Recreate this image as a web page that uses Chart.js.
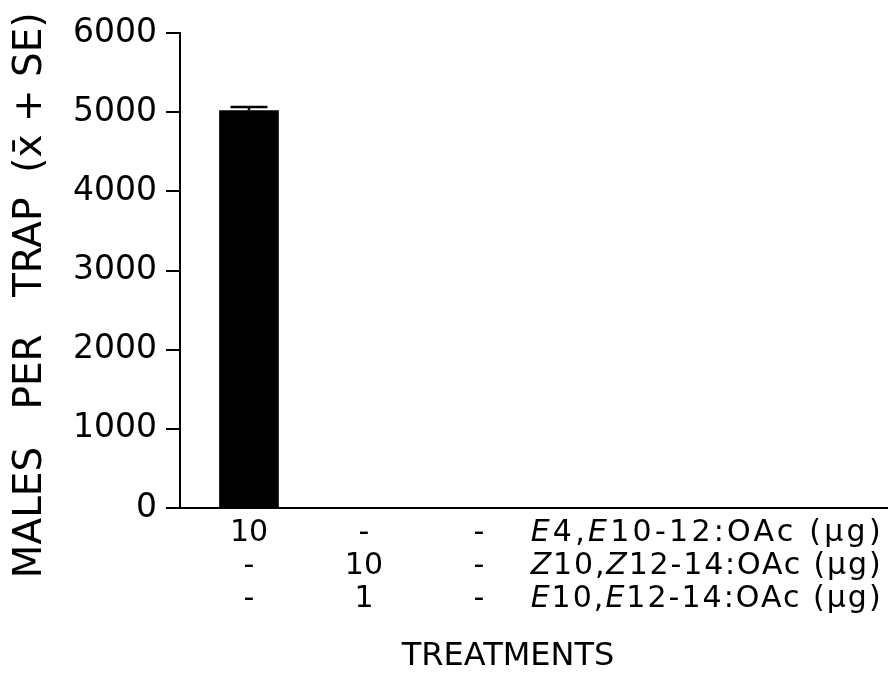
<!DOCTYPE html>
<html>
<head>
<meta charset="utf-8">
<script src="https://cdn.jsdelivr.net/npm/chart.js@4.4.1/dist/chart.umd.min.js"></script>
<style>
  body { margin: 0; background: #fff; }
  canvas { display: block; }
</style>
</head>
<body>
<canvas id="c" width="889" height="685"></canvas>
<script>
// Treatments (one bar each) and trap catches
const treatments = ['T1', 'T2', 'T3'];
const malesPerTrap = [5020, 0, 0];
const standardError = [45, 0, 0];
const yTickValues = [0, 1000, 2000, 3000, 4000, 5000, 6000];

// Dose table under the x axis: one row per compound, one entry per treatment
// (*..* marks the italic stereo letters)
const compoundNames = ['*E*4,*E*10-12:OAc (µg)', '*Z*10,*Z*12-14:OAc (µg)', '*E*10,*E*12-14:OAc (µg)'];
const doseRows = [
    ['10', '-', '-'],
    ['-', '10', '-'],
    ['-', '1', '-']
];

const FONT = "'DejaVu Sans', sans-serif";
const NAME_WIDTH = 350;   // compound names are tracked out to a common width

// error bars and the dose table under the axis
const figurePlugin = {
    id: 'figure',
    afterDatasetsDraw(chart) {
        const ctx = chart.ctx;
        const x = chart.scales.x;
        const y = chart.scales.y;
        ctx.save();
        ctx.strokeStyle = '#000';
        ctx.lineWidth = 2.5;
        malesPerTrap.forEach((v, i) => {
            const se = standardError[i];
            if (!se) return;
            const px = x.getPixelForValue(i);
            const y0 = y.getPixelForValue(v);
            const y1 = y.getPixelForValue(v + se);
            ctx.beginPath();
            ctx.moveTo(px, y0);
            ctx.lineTo(px, y1);
            ctx.moveTo(px - 18.5, y1);
            ctx.lineTo(px + 18.5, y1);
            ctx.stroke();
        });
        ctx.restore();
    },
    afterDraw(chart) {
        const ctx = chart.ctx;
        const x = chart.scales.x;
        ctx.save();
        ctx.fillStyle = '#000';
        ctx.textBaseline = 'middle';
        doseRows.forEach((row, r) => {
            const ty = chart.chartArea.bottom + 25 + r * 33;
            ctx.letterSpacing = '0px';
            ctx.font = '30px ' + FONT;
            ctx.textAlign = 'center';
            row.forEach((d, i) => ctx.fillText(d, x.getPixelForValue(i), ty));

            // compound name, left aligned after the last column
            ctx.textAlign = 'left';
            const parts = compoundNames[r].split('*');
            const fontOf = k => (k % 2 ? 'oblique ' : '') + '30px ' + FONT;
            let w0 = 0, n = 0;
            parts.forEach((part, k) => {
                ctx.font = fontOf(k);
                w0 += ctx.measureText(part).width;
                n += part.length;
            });
            ctx.letterSpacing = ((NAME_WIDTH - w0) / (n - 1)) + 'px';
            let tx = x.getPixelForValue(2.45);
            parts.forEach((part, k) => {
                ctx.font = fontOf(k);
                ctx.fillText(part, tx, ty);
                tx += ctx.measureText(part).width;
            });
        });
        ctx.restore();
    }
};

new Chart(document.getElementById('c'), {
    type: 'bar',
    data: {
        datasets: [{
            data: treatments.map((t, i) => ({ x: i, y: malesPerTrap[i] })),
            backgroundColor: c => (c.raw && c.raw.y > 0 ? '#000' : 'rgba(0,0,0,0)'),
            barThickness: 59
        }]
    },
    options: {
        responsive: false,
        animation: false,
        layout: { padding: { top: 33, right: 2, left: 0, bottom: 0 } },
        plugins: {
            legend: { display: false },
            tooltip: { enabled: false }
        },
        scales: {
            x: {
                type: 'linear',
                offset: false,
                min: -0.6,
                max: 5.55,
                grid: { display: false },
                ticks: { display: false },
                border: { color: '#000', width: 2 },
                title: {
                    display: true,
                    text: 'TREATMENTS     ',
                    color: '#000',
                    font: { family: FONT, size: 32 },
                    padding: { top: 0, bottom: 9 }
                },
                afterFit(s) { s.height = 177; }
            },
            y: {
                min: 0,
                max: 6000,
                afterBuildTicks(s) { s.ticks = yTickValues.map(v => ({ value: v })); },
                ticks: {
                    color: '#000',
                    font: { family: FONT, size: 33 },
                    padding: 9,
                    callback: v => String(v)
                },
                grid: { drawOnChartArea: false, tickLength: 14, color: '#000', lineWidth: 2 },
                border: { color: '#000', width: 2 },
                title: {
                    display: true,
                    text: 'MALES   PER   TRAP  (x\u0304 + SE)    ',
                    color: '#000',
                    font: { family: FONT, size: 39 },
                    padding: { top: 7, bottom: 0 }
                },
                afterFit(s) { s.width = 180; }
            }
        }
    },
    plugins: [figurePlugin]
});
</script>
</body>
</html>
